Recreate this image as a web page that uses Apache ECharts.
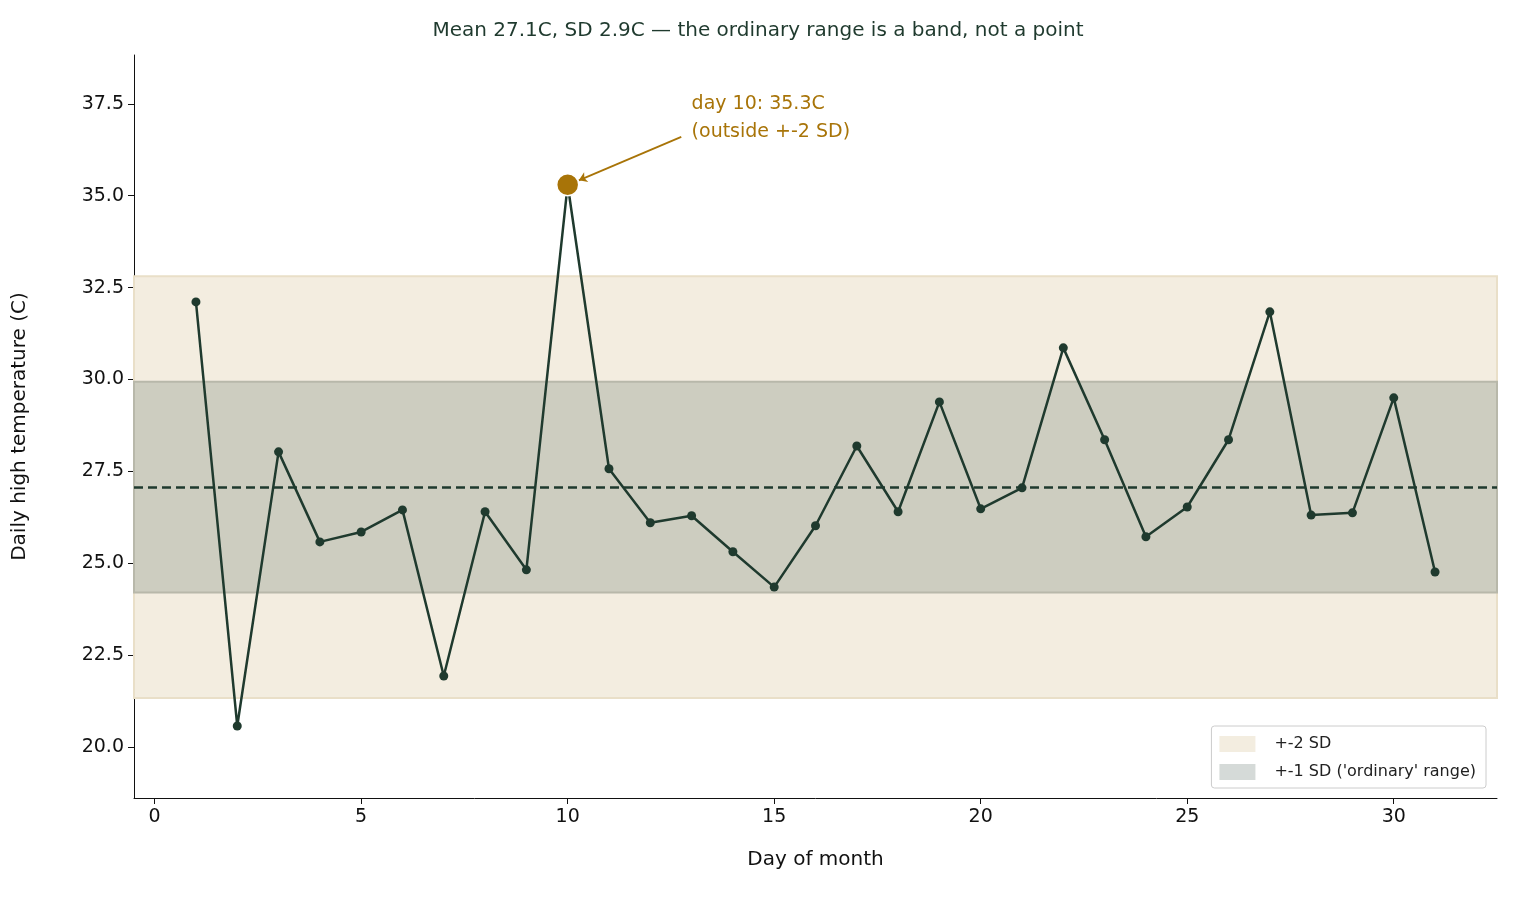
<!DOCTYPE html>
<html><head><meta charset="utf-8">
<script src="https://cdn.jsdelivr.net/npm/echarts@6/dist/echarts.min.js"></script>
<style>body{margin:0}#c{width:1516px;height:900px}</style></head>
<body><div id="c"></div>
<script>
const days = [1,2,3,4,5,6,7,8,9,10,11,12,13,14,15,16,17,18,19,20,21,22,23,24,25,26,27,28,29,30,31];
const temps = [32.11,20.57,28.03,25.58,25.85,26.45,21.93,26.40,24.82,35.3,27.57,26.10,26.29,25.31,24.35,26.02,28.19,26.40,29.39,26.48,27.05,30.86,28.36,25.72,26.53,28.36,31.84,26.31,26.37,29.50,24.76];
const mean = 27.07, sd = 2.87;
const xTicks = [0,5,10,15,20,25,30];
const yTicks = [20,22.5,25,27.5,30,32.5,35,37.5];
const ink = '#1f3a2e', gold = '#a87408';
const font = 'DejaVu Sans';

const chart = echarts.init(document.getElementById('c'));
chart.setOption({
  animation: false,
  textStyle: {fontFamily: font},
  title: {text: 'Mean 27.1C, SD 2.9C — the ordinary range is a band, not a point', left: 'center', top: 16,
    textStyle: {color: ink, fontSize: 20, fontWeight: 'normal', fontFamily: font}},
  grid: {left: 134, right: 19, top: 55, bottom: 102},
  legend: {right: 30, bottom: 112, orient: 'vertical', itemWidth: 36, itemHeight: 16, itemGap: 12,
    borderColor: '#cccccc', borderWidth: 1, borderRadius: 3, padding: [10, 10, 8, 8],
    textStyle: {fontSize: 16, color: '#222', padding: [0, 0, 0, 14]},
    data: [{name: '+-2 SD', icon: 'rect'}, {name: "+-1 SD ('ordinary' range)", icon: 'rect'}]},
  xAxis: {type: 'value', min: -0.5, max: 32.5, splitLine: {show: false},
    name: 'Day of month', nameLocation: 'middle', nameGap: 52, nameTextStyle: {fontSize: 20, color: '#111'},
    axisLine: {onZero: false, lineStyle: {color: '#111'}},
    axisTick: {customValues: xTicks, length: 6, lineStyle: {color: '#111'}},
    axisLabel: {customValues: xTicks, fontSize: 19, color: '#111', margin: 10}},
  yAxis: {type: 'value', min: 18.61, max: 38.83, splitLine: {show: false},
    name: 'Daily high temperature (C)', nameLocation: 'middle', nameGap: 104, nameTextStyle: {fontSize: 20, color: '#111'},
    axisLine: {show: true, onZero: false, lineStyle: {color: '#111'}},
    axisTick: {show: true, customValues: yTicks, length: 6, lineStyle: {color: '#111'}},
    axisLabel: {customValues: yTicks, fontSize: 19, color: '#111', margin: 10,
      formatter: v => v.toFixed(1)}},
  series: [
    {name: '+-2 SD', type: 'line', data: [], itemStyle: {color: '#f3ede0'}, z: 1,
      markArea: {silent: true, itemStyle: {color: '#f3ede0', borderColor: '#e9dfc8', borderWidth: 2},
        data: [[{yAxis: mean - 2 * sd, xAxis: -0.5}, {yAxis: mean + 2 * sd, xAxis: 32.5}]]}},
    {name: "+-1 SD ('ordinary' range)", type: 'line', data: [], itemStyle: {color: '#d5dad8'}, z: 2,
      markArea: {silent: true, itemStyle: {color: '#cdcdc0', borderColor: '#b8b8aa', borderWidth: 2},
        data: [[{yAxis: mean - sd, xAxis: -0.5}, {yAxis: mean + sd, xAxis: 32.5}]]}},
    {type: 'line', data: days.map((d, i) => [d, temps[i]]), z: 5,
      lineStyle: {color: ink, width: 2.5}, itemStyle: {color: ink},
      symbol: 'circle', symbolSize: 9,
      markLine: {silent: true, symbol: 'none', label: {show: false},
        lineStyle: {color: ink, type: [9, 5], width: 2.5},
        data: [[{coord: [-0.5, mean]}, {coord: [32.5, mean]}]]}},
    {type: 'scatter', data: [[10, 35.3]], symbolSize: 22, zlevel: 1,
      itemStyle: {color: gold, opacity: 1, borderColor: '#fff', borderWidth: 1.5},
      markLine: {silent: true, symbol: ['none', 'arrow'], symbolSize: 8, label: {show: false},
        lineStyle: {color: gold, type: 'solid', width: 1.8, opacity: 1},
        data: [[{coord: [12.75, 36.6]}, {coord: [10.27, 35.42]}]]},
      markPoint: {silent: true, symbol: 'circle', symbolSize: 0,
        data: [{coord: [13.0, 37.12]}],
        label: {show: true, position: 'right', distance: 0, align: 'left', color: gold, fontSize: 19, lineHeight: 28,
          formatter: 'day 10: 35.3C\n(outside +-2 SD)'}}}
  ]
});
</script></body></html>
